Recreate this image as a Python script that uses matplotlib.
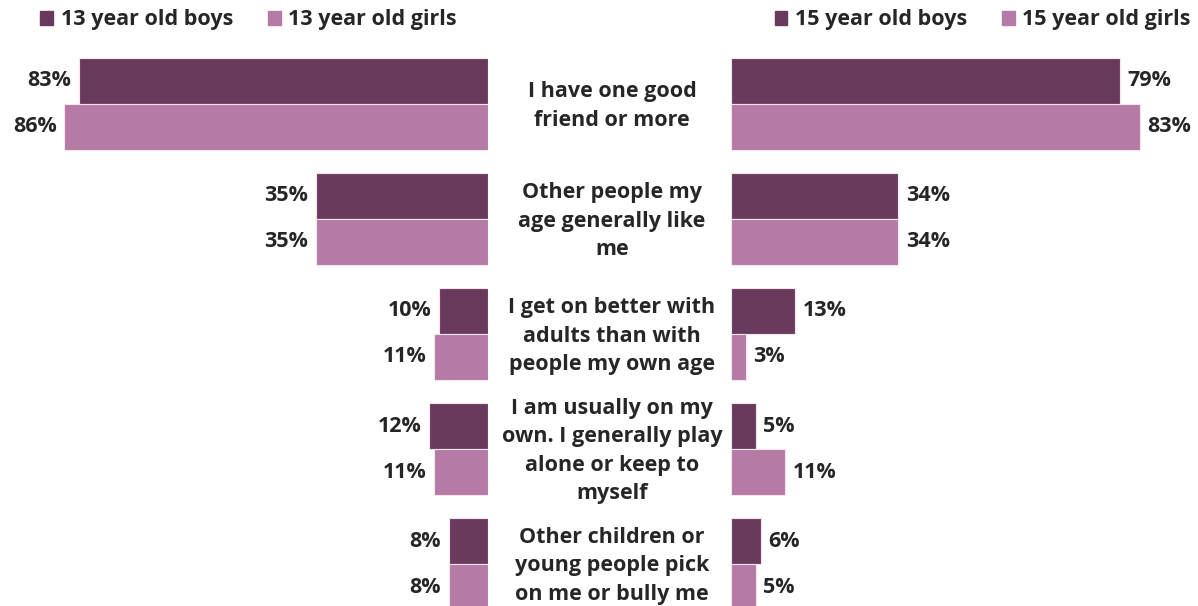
import numpy as np
import matplotlib.pyplot as plt
from matplotlib.patches import Patch

plt.rcParams['font.family'] = ['Open Sans', 'DejaVu Sans']

statements = ['I have one good\nfriend or more',
              'Other people my\nage generally like\nme',
              'I get on better with\nadults than with\npeople my own age',
              'I am usually on my\nown. I generally play\nalone or keep to\nmyself',
              'Other children or\nyoung people pick\non me or bully me']
boys13 = [83, 35, 10, 12, 8]
girls13 = [86, 35, 11, 11, 8]
boys15 = [79, 34, 13, 5, 6]
girls15 = [83, 34, 3, 11, 5]

c_boys = '#6A3A5C'
c_girls = '#B57AA5'
c_text = '#262626'
W, H = 1198, 606

fig = plt.figure(figsize=(W / 100, H / 100), dpi=100)
ax_l = fig.add_axes([5 / W, 0, 483 / W, 1])
ax_r = fig.add_axes([731 / W, 0, 468 / W, 1])

y = np.arange(len(statements))
h = 0.4

def draw(ax, boys, girls, side):
    ax.barh(y - h / 2, boys, height=h, color=c_boys, edgecolor='#F3E6EF', linewidth=0.8)
    ax.barh(y + h / 2, girls, height=h, color=c_girls, edgecolor='#F3E6EF', linewidth=0.8)
    ax.set_ylim(4.365, -0.904)
    for vals, off in ((boys, -h / 2), (girls, h / 2)):
        for yi, v in zip(y, vals):
            ax.annotate(f'{v}%', (v, yi + off), xytext=(5.5 * side, 0), textcoords='offset points',
                        ha='left' if side > 0 else 'right', va='center',
                        fontsize=15.5, fontweight='bold', color=c_text)
    ax.axis('off')

draw(ax_l, boys13, girls13, -1)
ax_l.set_xlim(98, 0)
draw(ax_r, boys15, girls15, 1)
ax_r.set_xlim(0, 95)

for yi, s in zip(y, statements):
    fig.text(612 / W, 1 - (106 + 115 * yi) / H, s, ha='center', va='center',
             fontsize=15.5, fontweight='bold', color=c_text, linespacing=1.45)

handles = [Patch(color=c_boys), Patch(color=c_girls)]
leg_kw = dict(ncol=2, frameon=False, prop={'weight': 'bold', 'size': 15.5},
              handlelength=0.6, handleheight=0.6, handletextpad=0.35,
              columnspacing=1.6, labelcolor=c_text)
fig.legend(handles, ['13 year old boys', '13 year old girls'], loc='center left',
           bbox_to_anchor=(21 / W, 1 - 20 / H), **leg_kw)
fig.legend(handles, ['15 year old boys', '15 year old girls'], loc='center right',
           bbox_to_anchor=(1210 / W, 1 - 20 / H), **leg_kw)

fig.savefig('out.png', dpi=100)
